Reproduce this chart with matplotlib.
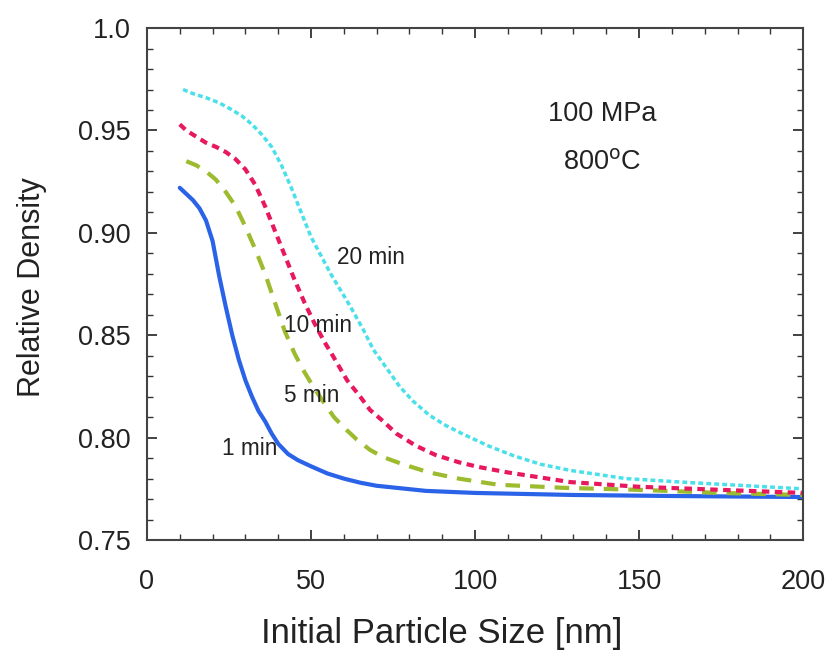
import matplotlib
matplotlib.use("Agg")
import matplotlib.pyplot as plt
from matplotlib.ticker import MultipleLocator

plt.rcParams['font.family'] = ['Liberation Sans', 'DejaVu Sans']

x_1min = [10, 12, 14, 16, 18, 20, 22, 24, 26, 28, 30, 32, 34, 36, 38, 40, 43, 46, 50, 55, 60, 65, 70, 76, 85, 100, 130, 160, 200]
y_1min = [0.922, 0.919, 0.916, 0.912, 0.906, 0.896, 0.879, 0.864, 0.850, 0.838, 0.828, 0.820, 0.813, 0.808, 0.802, 0.797, 0.792, 0.789, 0.786, 0.7825, 0.780, 0.778, 0.7765, 0.7755, 0.774, 0.773, 0.772, 0.7715, 0.771]

x_5min = [12, 15, 18, 21, 24, 27, 30, 33, 36, 39, 42, 45, 48, 51, 54, 57, 60, 64, 68, 72, 78, 86, 95, 107, 127, 150, 175, 200]
y_5min = [0.935, 0.933, 0.930, 0.926, 0.920, 0.913, 0.903, 0.892, 0.880, 0.866, 0.852, 0.841, 0.832, 0.824, 0.817, 0.810, 0.805, 0.799, 0.794, 0.7905, 0.787, 0.783, 0.780, 0.777, 0.7755, 0.7745, 0.773, 0.772]

x_10min = [10, 12, 15, 18, 21, 24, 27, 30, 33, 36, 39, 42, 45, 48, 51, 54, 57, 61, 65, 68, 72, 76, 82, 88, 95, 101, 110, 129, 150, 175, 200]
y_10min = [0.953, 0.950, 0.947, 0.944, 0.942, 0.9395, 0.936, 0.931, 0.9235, 0.913, 0.901, 0.889, 0.877, 0.866, 0.856, 0.847, 0.839, 0.828, 0.820, 0.8135, 0.808, 0.802, 0.796, 0.7915, 0.788, 0.7857, 0.783, 0.7783, 0.776, 0.7745, 0.773]

x_20min = [11, 14, 18, 22, 26, 29, 32, 35, 38, 41, 44, 47, 50, 53, 56, 59, 62, 66, 69, 73, 77, 81, 86, 91, 96, 104, 112, 120, 129, 146, 166, 200]
y_20min = [0.970, 0.968, 0.966, 0.9635, 0.960, 0.957, 0.953, 0.948, 0.942, 0.933, 0.922, 0.910, 0.898, 0.889, 0.880, 0.872, 0.864, 0.8525, 0.843, 0.834, 0.825, 0.818, 0.811, 0.806, 0.802, 0.796, 0.791, 0.787, 0.784, 0.780, 0.778, 0.775]

fig = plt.figure(figsize=(8.28, 6.53), dpi=100)
ax = fig.add_axes([0.1775, 0.173, 0.7925, 0.784])

ax.plot(x_1min, y_1min, color='#2a63e8', lw=3, solid_capstyle='round')
ax.plot(x_5min, y_5min, color='#9dbb2e', lw=3, dashes=(3.5, 2.4))
ax.plot(x_10min, y_10min, color='#e8185f', lw=3, dashes=(1.8, 1.3))
ax.plot(x_20min, y_20min, color='#4ae0ea', lw=2.5, dashes=(1.4, 0.9))

ax.set_xlim(0, 200)
ax.set_ylim(0.75, 1.0)
ax.xaxis.set_major_locator(MultipleLocator(50))
ax.xaxis.set_minor_locator(MultipleLocator(10))
ax.yaxis.set_minor_locator(MultipleLocator(0.01))
ax.set_yticks([0.75, 0.80, 0.85, 0.90, 0.95, 1.0])
ax.set_yticklabels(['0.75', '0.80', '0.85', '0.90', '0.95', '1.0'])

ax.tick_params(which='both', direction='in', top=True, right=True, colors='#333333', labelcolor='#222222')
ax.tick_params(which='major', length=7, width=1.3, labelsize=19.5)
ax.tick_params(axis='y', which='major', pad=11.5)
ax.tick_params(axis='x', which='major', pad=21)
ax.tick_params(which='minor', length=4, width=1.0)
for s in ax.spines.values():
    s.set_color('#444444')
    s.set_linewidth(1.5)

ax.set_xlabel('Initial Particle Size [nm]', fontsize=25, color='#222222')
ax.xaxis.label.set_va('center')
ax.xaxis.set_label_coords(0.449, -0.182)
ax.set_ylabel('Relative Density', fontsize=22, color='#222222')
ax.yaxis.label.set_va('center')
ax.yaxis.set_label_coords(-0.175, 0.494)

ax.text(138.7, 0.958, '100 MPa', fontsize=19.5, ha='center', va='center', color='#222222')
ax.text(138.7, 0.9346, '800$^{\\mathrm{o}}$C', fontsize=19.5, ha='center', va='center', color='#222222')
ax.text(68.3, 0.888, '20 min', fontsize=16.3, ha='center', va='center', color='#222222')
ax.text(52.1, 0.855, '10 min', fontsize=16.3, ha='center', va='center', color='#222222')
ax.text(50.3, 0.8208, '5 min', fontsize=16.3, ha='center', va='center', color='#222222')
ax.text(31.4, 0.7945, '1 min', fontsize=16.3, ha='center', va='center', color='#222222')

fig.savefig('out.png', dpi=100)
